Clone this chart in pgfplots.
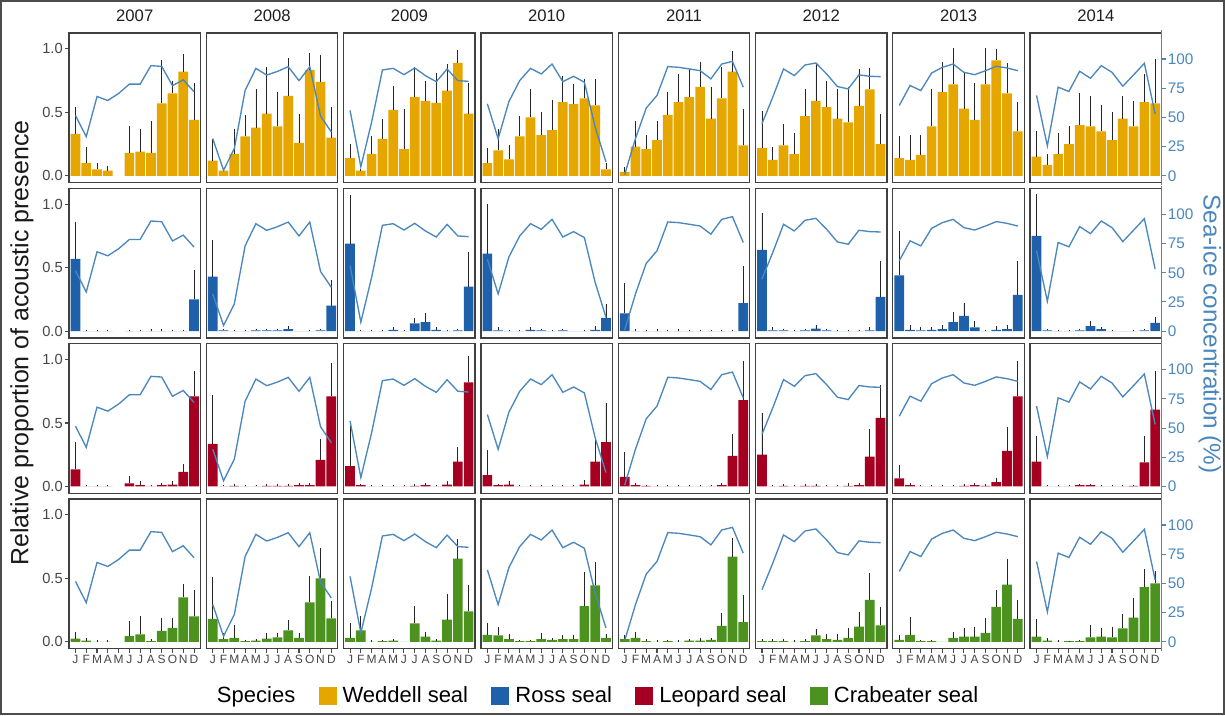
\documentclass[border=0pt]{standalone}
\usepackage{pgfplots}
\pgfplotsset{compat=1.18}
\usepackage{pgfplotstable}
\usepackage{fontspec}
\setmainfont{Liberation Sans}

\definecolor{wcol}{RGB}{230,166,0}
\definecolor{rcol}{RGB}{31,96,170}
\definecolor{lcol}{RGB}{165,0,33}
\definecolor{ccol}{RGB}{76,146,30}
\definecolor{icecol}{RGB}{74,135,190}

% Weddell seal: y = proportion, u = upper end of error bar
\pgfplotstableread{
m y2007 u2007 y2008 u2008 y2009 u2009 y2010 u2010 y2011 u2011 y2012 u2012 y2013 u2013 y2014 u2014
1  .33 .54  .12 .29  .14 .25  .10 .22  .03 .07  .22 .51  .14 .31  .15 .35
2  .10 .23  .04 .06  .04 .05  .20 .37  .23 .43  .125 .23  .125 .32  .085 .17
3  .05 .10  .17 .37  .17 .31  .13 .24  .21 .32  .24 .41  .165 .32  .17 .34
4  .04 .08  .31 .48  .29 .45  .31 .47  .28 .43  .17 .34  .39 .68  .25 .39
5  nan nan  .38 .68  .52 .71  .46 .68  .48 .66  .47 .68  .66 .90  .40 .65
6  .18 .39  .49 .86  .21 .53  .32 .50  .58 .80  .59 .89  .72 1.01  .39 .63
7  .19 .37  .39 .66  .62 .86  .36 .60  .62 .84  .54 .75  .53 .82  .35 .56
8  .18 .43  .63 .93  .59 .75  .58 .79  .70 .90  .45 .68  .44 .73  .28 .50
9  .57 .91  .26 .49  .575 .81  .565 .72  .45 .70  .42 .70  .72 1.01  .45 .63
10 .65 .75  .835 .97  .67 .88  .61 .76  .61 .86  .55 .84  .91 1.00  .39 .59
11 .82 .96  .74 .95  .89 .99  .555 .76  .82 .98  .68 .85  .65 .89  .58 .80
12 .44 .73  .30 .54  .49 .73  .05 .10  .24 .53  .25 .49  .35 .58  .57 .92
}\tblW

% Ross seal
\pgfplotstableread{
m y2007 u2007 y2008 u2008 y2009 u2009 y2010 u2010 y2011 u2011 y2012 u2012 y2013 u2013 y2014 u2014
1  .57 .86  .43 .72  .69 1.07  .61 1.00  .14 .38  .64 .93  .44 .79  .75 1.08
2  0 .012  .005 .02  0 .012  .005 .03  0 .02  .005 .03  .01 .05  .005 .02
3  0 .012  0 .012  0 .012  0 .012  0 .012  .005 .02  .005 .03  0 .012
4  0 .012  0 .012  0 .012  0 .012  0 .02  0 .012  .01 .03  0 .012
5  nan nan  .005 .02  .01 .03  .01 .03  0 .012  .005 .02  .015 .05  .005 .02
6  0 .012  .005 .02  0 .012  .005 .02  0 .02  .02 .05  .07 .15  .04 .08
7  0 .012  .005 .02  .06 .10  0 .012  0 .012  .005 .02  .12 .22  .015 .03
8  0 .02  .015 .04  .07 .14  .005 .02  0 .012  0 .012  .03 .08  0 .012
9  0 .02  0 0  .01 .03  0 0  0 .012  0 .012  0 .012  0 0
10 0 .012  0 .012  0 .012  0 .012  0 .012  0 .012  .01 .04  0 .012
11 0 .012  .005 .02  .005 .02  .01 .04  0 .012  .005 .03  .015 .05  .005 .02
12 .25 .48  .20 .40  .35 .62  .105 .21  .22 .51  .27 .55  .285 .55  .065 .11
}\tblR

% Leopard seal
\pgfplotstableread{
m y2007 u2007 y2008 u2008 y2009 u2009 y2010 u2010 y2011 u2011 y2012 u2012 y2013 u2013 y2014 u2014
1  .135 .35  .335 .72  .16 .48  .09 .29  .076 .27  .25 .58  .063 .17  .195 .40
2  0 .012  0 .012  .01 .02  .01 .02  .01 .03  0 .012  .01 .03  0 .012
3  0 .012  .005 .02  0 .012  .015 .045  .005 .015  .005 .02  0 .012  0 .012
4  0 .012  0 .012  0 .012  0 .012  0 .012  0 .012  0 .012  0 .012
5  nan nan  0 .012  0 .012  0 .012  0 .012  .005 .02  0 .012  .01 .02
6  .025 .08  .005 .02  0 .012  0 .012  0 .012  .005 .02  0 .012  .01 .02
7  .01 .04  .005 .02  .005 .02  0 .012  0 .012  0 .012  .005 .02  0 .012
8  0 .012  .005 .02  .01 .03  0 .012  0 .012  0 .012  .01 .03  0 .012
9  .01 .03  .01 .03  0 .012  0 .012  0 .012  .005 .03  .005 .02  0 .012
10 .015 .04  .01 .03  .015 .04  .015 .05  .01 .03  .01 .03  .035 .07  .005 .012
11 .115 .18  .21 .37  .195 .31  .195 .38  .24 .41  .235 .45  .28 .47  .19 .40
12 .71 .91  .71 .97  .82 1.03  .35 .66  .68 .99  .54 .80  .71 .99  .605 .91
}\tblL

% Crabeater seal
\pgfplotstableread{
m y2007 u2007 y2008 u2008 y2009 u2009 y2010 u2010 y2011 u2011 y2012 u2012 y2013 u2013 y2014 u2014
1  .025 .075  .18 .51  .03 .15  .055 .15  .02 .05  .005 .02  .015 .05  .04 .18
2  .01 .03  .02 .07  .09 .20  .05 .12  .03 .08  .005 .02  .055 .195  .01 .03
3  0 .012  .03 .13  0 .012  .02 .06  .005 .02  .005 .02  .005 .012  0 .012
4  0 .012  .005 .012  .005 .012  .005 .012  0 .012  0 .012  .005 .012  .005 .01
5  nan nan  .01 .02  .01 .02  .005 .012  .005 .012  .005 .02  0 0  .005 .012
6  .045 .16  .025 .07  0 0  .02 .07  0 .012  .05 .10  .03 .08  .035 .13
7  .058 .20  .035 .07  .145 .28  .015 .03  .01 .02  .02 .06  .04 .11  .04 .11
8  .005 .02  .09 .175  .04 .08  .02 .05  .01 .03  .015 .06  .04 .12  .035 .12
9  .085 .19  .03 .07  .01 .02  .02 .05  .015 .03  .03 .11  .07 .19  .105 .215
10 .11 .19  .31 .52  .175 .38  .28 .55  .125 .23  .12 .235  .275 .405  .19 .345
11 .35 .455  .50 .74  .655 .81  .445 .625  .67 .82  .33 .54  .45 .655  .43 .575
12 .20 .405  .185 .32  .24 .445  .03 .06  .155 .37  .13 .275  .18 .33  .46 .555
}\tblC

% Sea-ice concentration (%)
\pgfplotstableread{
m i2007 i2008 i2009 i2010 i2011 i2012 i2013 i2014
1  51.7 31.8 56   61.6 1    44.6 60.2 68.8
2  33.5 4.8  7.7  31.8 31.8 67.3 77.3 25.6
3  67.9 23.3 46   63.6 58   91.5 73   75.9
4  64.5 73   90.6 81.5 68.8 85.8 88   72.2
5  70.5 92   92   92   93.5 94.9 92.9 89.5
6  78.5 86.3 86.6 87.2 92.9 96.6 95.7 83.5
7  78.5 89.4 92.3 95.7 91.5 87.2 88.6 94.3
8  94.3 93.4 85.7 80.6 90   76.4 86.6 88.6
9  93.7 81.5 80.6 85.2 83   74.4 90   76.7
10 77.2 93.4 91.4 80.1 95.7 86.4 93.8 86.4
11 82.2 51.1 81.5 41.7 98   85.2 92.3 96.3
12 72   37.5 80.9 11.9 75.9 84.9 90   53.1
}\tblI

\pgfplotsset{
  panelstyle/.style={
    scale only axis, width=98.625pt, height=112.125pt, anchor=south west,
    xmin=0.4, xmax=12.6, ymin=-0.053, ymax=1.125,
    axis line style={draw=black!75, line width=1pt},
    tick align=outside, tick pos=left, major tick length=3pt,
    tick style={draw=black!70, line width=0.8pt},
    ytick={0,0.5,1}, yticklabels={0.0,0.5,1.0},
    xtick={1,2,3,4,5,6,7,8,9,10,11,12},
    xticklabels={J,F,M,A,M,J,J,A,S,O,N,D},
    yticklabel style={font=\fontsize{11}{13}\selectfont, text=black!72, inner sep=1.5pt},
    xticklabel style={font=\fontsize{9}{10}\selectfont, text=black!72, inner sep=1.5pt},
    title style={at={(0.5,1)}, anchor=base, yshift=3pt, inner sep=0pt,
      font=\fontsize{12.5}{14}\selectfont, text=black!88},
  },
  colopt/.code={\ifnum#1=0\relax\else\pgfplotsset{ytick=\empty}\fi},
  rowopt/.code={\ifnum#1=3\relax\else\pgfplotsset{xtick=\empty}\fi},
}

\newcommand\panel[5]{%
  \pgfmathsetmacro\PX{(69+137.3*#1)*0.75}%
  \pgfmathsetmacro\PY{-(182.5+155.33*#2)*0.75}%
  \ifnum#2=0 \def\ttl{#4}\else\def\ttl{}\fi
  \begin{axis}[panelstyle, colopt=#1, rowopt=#2, title={\ttl}, at={(\PX pt,\PY pt)}]
    \addplot[ybar, bar width=0.9, fill=#5, draw=none,
      error bars/.cd, y dir=plus, y explicit, error mark=none,
      error bar style={draw=black!85, line width=0.55pt}]
      table[x=m, y=y#4, y error expr=\thisrow{u#4}-\thisrow{y#4}] {#3};
    \addplot[icecol, line width=1pt, mark=none]
      table[x=m, y expr=\thisrow{i#4}*0.0092] {\tblI};
  \end{axis}}

\newcommand\rightaxis[1]{%
  \pgfmathsetmacro\PX{(69+137.3*7)*0.75}%
  \pgfmathsetmacro\PY{-(182.5+2.67+155.33*#1)*0.75}%
  \begin{axis}[scale only axis, width=98.625pt, height=116.12pt, anchor=south west,
    at={(\PX pt,\PY pt)}, xmin=0, xmax=1, ymin=-8.05, ymax=124.57,
    axis x line=none, axis y line*=right,
    ytick={0,25,50,75,100}, yticklabels={0,25,50,75,100},
    tick align=outside, major tick length=3pt,
    y axis line style={draw=icecol, line width=1.2pt},
    ytick style={draw=icecol, line width=0.8pt},
    yticklabel style={text=icecol, font=\fontsize{11.5}{13}\selectfont, inner sep=1.5pt}]
  \end{axis}}

\begin{document}
\begin{tikzpicture}
\useasboundingbox (0,0) rectangle (918.75pt,-536.25pt);
\fill[white] (0,0) rectangle (918.75pt,-536.25pt);
\draw[black!70, line width=1.1pt] (0.9pt,-0.9pt) rectangle (917.85pt,-535.35pt);

\foreach \yr [count=\ci from 0] in {2007,2008,2009,2010,2011,2012,2013,2014}{%
  \edef\doit{\noexpand\panel{\ci}{0}{\noexpand\tblW}{\yr}{wcol}%
    \noexpand\panel{\ci}{1}{\noexpand\tblR}{\yr}{rcol}%
    \noexpand\panel{\ci}{2}{\noexpand\tblL}{\yr}{lcol}%
    \noexpand\panel{\ci}{3}{\noexpand\tblC}{\yr}{ccol}}%
  \doit}

\foreach \rr in {0,1,2,3}{\rightaxis{\rr}}

\node[rotate=90, font=\fontsize{18.7}{22}\selectfont, text=black!90]
  at (16.5pt,-257.25pt) {Relative proportion of acoustic presence};
\node[rotate=-90, font=\fontsize{18.2}{22}\selectfont, text=icecol]
  at (907.5pt,-250.5pt) {Sea-ice concentration (\%)};

\begin{axis}[hide axis, scale only axis, width=918.75pt, height=536.25pt,
  anchor=south west, at={(0pt,-536.25pt)}, xmin=0, xmax=1, ymin=0, ymax=1,
  legend columns=-1,
  legend style={at={(0.4865,0.0266)}, anchor=center, draw=none, fill=none,
    font=\fontsize{16.5}{19}\selectfont,
    /tikz/every even column/.append style={column sep=15.5pt},
    /tikz/every odd column/.append style={column sep=2.5pt}},
  legend image code/.code={\fill[#1] (0pt,-6.75pt) rectangle (13.5pt,6.75pt);}]
  \addlegendimage{empty legend}\addlegendentry{Species}
  \addlegendimage{fill=wcol, draw=none}\addlegendentry{Weddell seal}
  \addlegendimage{fill=rcol, draw=none}\addlegendentry{Ross seal}
  \addlegendimage{fill=lcol, draw=none}\addlegendentry{Leopard seal}
  \addlegendimage{fill=ccol, draw=none}\addlegendentry{Crabeater seal}
\end{axis}
\end{tikzpicture}
\end{document}
